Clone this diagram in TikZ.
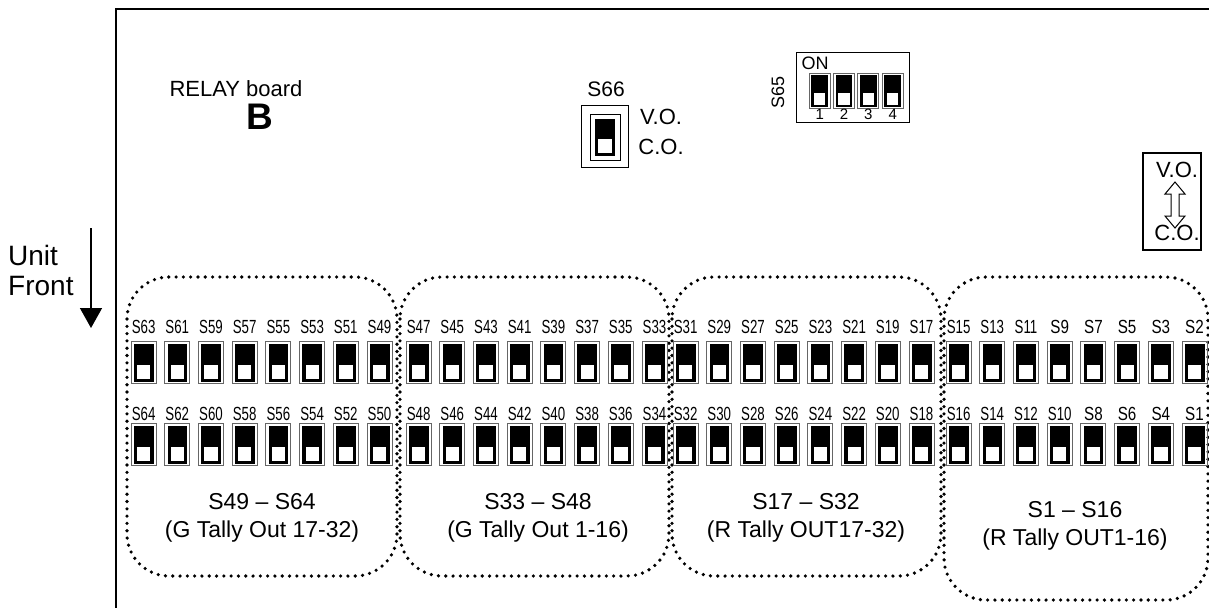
\documentclass[tikz,border=0pt]{standalone}
\usepackage{fontspec}
\setmainfont{Liberation Sans}
\newfontfamily\swfont[FakeStretch=0.7]{Liberation Sans}
\newfontfamily\swfontw[FakeStretch=0.8]{Liberation Sans}
\usetikzlibrary{arrows.meta}

\newcommand{\swtxt}[1]{\ifnum#1<10 \swfontw S#1\else\swfont S#1\fi}

\tikzset{
  swlab/.style={inner sep=0pt, font=\fontsize{19}{22}\selectfont},
  grpbox/.style={line width=3.6pt, dash pattern=on 0pt off 7.3pt, line cap=round, rounded corners=42pt},
  grplab/.style={align=center, font=\fontsize{23}{28}\selectfont},
  txt/.style={inner sep=0pt, font=\fontsize{22}{26}\selectfont},
  pics/slide/.style={code={
    \draw[black!60, line width=0.8pt] (0,0) rectangle (25,42);
    \filldraw[black, line width=0.8pt] (3.3,3) rectangle (22,40);
    \fill[white] (6,24) rectangle (19.3,38);
  }},
}

\begin{document}
\begin{tikzpicture}[x=1pt, y=-1pt]
  \useasboundingbox (0,0) rectangle (1209,608);
  % board outline
  \draw[line width=1.8pt] (1209,9) -- (116,9) -- (116,608);
  \node[txt] (relay) at (236,89) {RELAY board};
  \node[inner sep=0pt, font=\fontsize{37}{40}\selectfont\bfseries] (boardB) at (260,117) {B};
  % unit front
  \node[align=left, anchor=west, inner sep=0pt, font=\fontsize{28}{30}\selectfont] (front) at (8,270) {Unit\\Front};
  \coordinate (arrtop) at (91,228);
  \coordinate (arrtip) at (91,328);
  \draw[line width=1.5pt, -{Triangle[width=22pt,length=20pt]}] (arrtop) -- (arrtip);
  % S66
  \node[inner sep=0pt, font=\fontsize{21}{24}\selectfont] (s66) at (606,89) {S66};
  \draw[line width=0.8pt] (581,105) rectangle (628,167);
  \draw[line width=0.8pt] (590,114) rectangle (620,160);
  \fill (595,119) rectangle (615,156);
  \fill[white] (598,139) rectangle (612,153);
  \node[txt] (vo1) at (661,117) {V.O.};
  \node[txt] (co1) at (661,147) {C.O.};
  % S65
  \draw[line width=0.8pt] (796,52) rectangle (909,122);
  \node[swlab, font=\fontsize{18}{20}\selectfont] (on) at (815,63) {ON};
  \node[swlab, font=\fontsize{18}{20}\selectfont, rotate=90] (s65) at (778,92) {S65};
  \foreach \k in {1,...,4} {
    \pic[scale=0.84] at (784.7+24.3*\k,73) {slide};
    \node[inner sep=0pt, font=\fontsize{15}{16}\selectfont] (dip\k) at (795.5+24.3*\k,114) {\k};
  }
  % V.O. / C.O. selector
  \draw[line width=1.2pt] (1143,153) rectangle (1201,250);
  \node[txt] (vo2) at (1177,170) {V.O.};
  \node[txt] (co2) at (1177,233) {C.O.};
  \draw[line width=1pt] (1175,182) -- (1185,194) -- (1179,194) -- (1179,216) -- (1185,216)
    -- (1175,228) -- (1165,216) -- (1171,216) -- (1171,194) -- (1165,194) -- cycle;
  % groups
  \draw[grpbox] (127,277) rectangle (397,576);
  \draw[grpbox] (400,277) rectangle (669,576);
  \draw[grpbox] (672,277) rectangle (941,576);
  \draw[grpbox] (944,277) rectangle (1208,600);
  \node[grplab] (g1) at (262,518) {S49 -- S64\\(G Tally Out 17-32)};
  \node[grplab] (g2) at (538,518) {S33 -- S48\\(G Tally Out 1-16)};
  \node[grplab] (g3) at (806,518) {S17 -- S32\\(R Tally OUT17-32)};
  \node[grplab] (g4) at (1075,526) {S1 -- S16\\(R Tally OUT1-16)};
  % switches
  \foreach \gx/\b in {131/48, 406/32, 673/16, 946/0} {
    \foreach \i in {0,...,7} {
      \pgfmathsetmacro\sx{\gx+33.7*\i}
      \pgfmathtruncatemacro\ta{\b+15-2*\i}
      \pgfmathtruncatemacro\tb{\b+16-2*\i}
      \ifnum\tb=2 \def\ta{2}\def\tb{1}\fi
      \node[swlab] (s\ta) at (\sx+12.6,327) {\swtxt{\ta}};
      \pic at (\sx,341) {slide};
      \node[swlab] (s\tb) at (\sx+12.6,414) {\swtxt{\tb}};
      \pic at (\sx,423) {slide};
    }
  }
\end{tikzpicture}
\end{document}
